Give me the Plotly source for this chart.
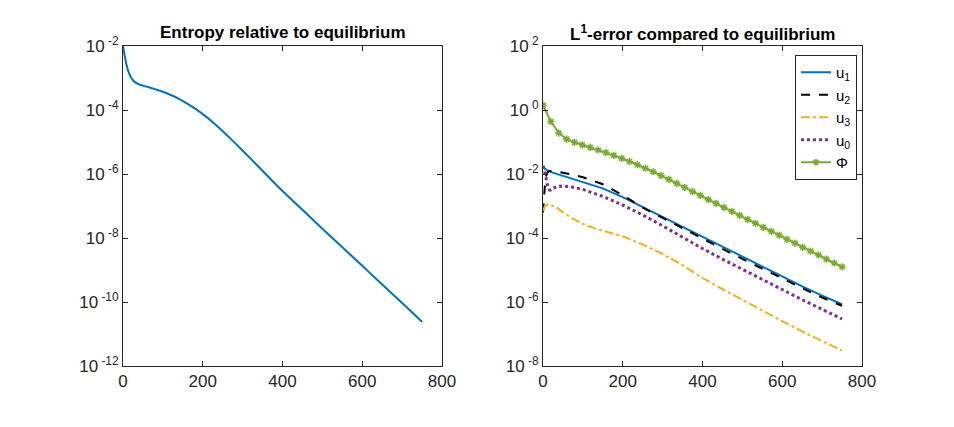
import plotly.graph_objects as go

# ---------------- data ----------------
# Left panel: entropy relative to equilibrium (log10 values)
ent_t = [0, 5, 10, 15, 20, 25, 30, 40, 50, 70, 100, 120, 140, 160, 180, 200,
         220, 240, 260, 280, 320, 360, 400, 450, 500, 550, 600, 650, 700, 750]
ent_log = [-2.0, -2.35, -2.65, -2.85, -2.98, -3.07, -3.13, -3.2, -3.24, -3.31,
           -3.43, -3.53, -3.65, -3.79, -3.95, -4.13, -4.33, -4.55, -4.78, -5.02,
           -5.52, -6.03, -6.53, -7.12, -7.71, -8.29, -8.87, -9.45, -10.03, -10.62]

# Right panel: L1 errors (log10 values)
u1_t = [0, 10, 20, 40, 70, 100, 150, 200, 250, 300, 350, 400, 450, 500, 550,
        600, 650, 700, 750]
u1_log = [-1.79, -1.88, -1.94, -2.02, -2.13, -2.24, -2.45, -2.72, -3.03, -3.34,
          -3.66, -3.97, -4.28, -4.59, -4.9, -5.21, -5.51, -5.8, -6.07]

u2_t = [0, 3, 6, 10, 15, 25, 40, 70, 100, 150, 200, 250, 300, 350, 400, 450,
        500, 550, 600, 650, 700, 750]
u2_log = [-3.2, -2.6, -2.15, -1.97, -1.91, -1.9, -1.93, -2.01, -2.1, -2.32,
          -2.66, -3.05, -3.37, -3.7, -4.02, -4.34, -4.65, -4.96, -5.27, -5.57,
          -5.86, -6.12]

u3_t = [0, 5, 12, 20, 35, 50, 70, 100, 130, 160, 200, 250, 300, 350, 400, 450,
        500, 550, 600, 650, 700, 750]
u3_log = [-3.15, -3.0, -2.95, -2.97, -3.05, -3.2, -3.36, -3.56, -3.7, -3.8,
          -3.95, -4.2, -4.5, -4.85, -5.25, -5.6, -5.94, -6.27, -6.6, -6.92,
          -7.22, -7.52]

u0_t = [0, 4, 8, 12, 16, 20, 25, 35, 50, 70, 100, 150, 200, 250, 300, 350,
        400, 450, 500, 550, 600, 650, 700, 750]
u0_log = [-1.74, -1.9, -2.15, -2.4, -2.5, -2.5, -2.45, -2.39, -2.38, -2.4,
          -2.48, -2.7, -2.97, -3.28, -3.62, -3.98, -4.33, -4.66, -4.98, -5.3,
          -5.62, -5.93, -6.23, -6.53]

phi_t = [0, 19.7, 39.5, 59.2, 78.9, 98.7, 118.4, 138.2, 157.9, 177.6, 197.4,
         217.1, 236.8, 256.6, 276.3, 296.1, 315.8, 335.5, 355.3, 375, 394.7,
         414.5, 434.2, 453.9, 473.7, 493.4, 513.2, 532.9, 552.6, 572.4, 592.1,
         611.8, 631.6, 651.3, 671.1, 690.8, 710.5, 730.3, 750]
phi_log = [0.15, -0.36, -0.72, -0.91, -1.01, -1.09, -1.17, -1.25, -1.33, -1.42,
           -1.51, -1.61, -1.71, -1.82, -1.93, -2.05, -2.17, -2.29, -2.42, -2.55,
           -2.67, -2.8, -2.92, -3.05, -3.17, -3.29, -3.42, -3.54, -3.67, -3.79,
           -3.91, -4.04, -4.16, -4.29, -4.41, -4.53, -4.66, -4.78, -4.9]

x_ticks = [0, 200, 400, 600, 800]
left_exps = [-12, -10, -8, -6, -4, -2]
right_exps = [-8, -6, -4, -2, 0, 2]

# ---------------- figure ----------------
W, H = 954, 427
OFF = 8  # page offset of the plot div (default body margin)


def fx(px):
    return (px - OFF) / W


def fy(py):
    return (H + OFF - py) / H


def pw(logs):
    return [10 ** v for v in logs]


fig = go.Figure()
fig.add_trace(go.Scatter(x=ent_t, y=pw(ent_log), mode="lines",
                         line=dict(color="#0072BD", width=2, shape="spline",
                                   smoothing=0.5),
                         xaxis="x", yaxis="y", showlegend=False))

fig.add_trace(go.Scatter(x=u1_t, y=pw(u1_log), mode="lines", name="u<sub>1</sub>",
                         line=dict(color="#0072BD", width=2),
                         xaxis="x2", yaxis="y2"))
fig.add_trace(go.Scatter(x=u2_t, y=pw(u2_log), mode="lines", name="u<sub>2</sub>",
                         line=dict(color="#000000", width=2, dash="dash"),
                         xaxis="x2", yaxis="y2"))
fig.add_trace(go.Scatter(x=u3_t, y=pw(u3_log), mode="lines", name="u<sub>3</sub>",
                         line=dict(color="#EDB120", width=2, dash="dashdot"),
                         xaxis="x2", yaxis="y2"))
fig.add_trace(go.Scatter(x=u0_t, y=pw(u0_log), mode="lines", name="u<sub>0</sub>",
                         line=dict(color="#7E2F8E", width=3, dash="dot"),
                         xaxis="x2", yaxis="y2"))
fig.add_trace(go.Scatter(x=phi_t, y=pw(phi_log), mode="lines+markers", name="Φ",
                         line=dict(color="#77AC30", width=2),
                         marker=dict(symbol="asterisk-open", size=6,
                                     color="#77AC30",
                                     line=dict(color="#77AC30", width=1.5)),
                         xaxis="x2", yaxis="y2"))

axcol = "#262626"
font = "Liberation Sans, Arial, sans-serif"


def xax(domain, anchor):
    return dict(domain=domain, anchor=anchor, range=[0, 800], tickvals=x_ticks,
                ticktext=[str(v) for v in x_ticks], ticks="inside", ticklen=5,
                tickcolor=axcol, showline=True, linecolor=axcol, linewidth=1,
                mirror="ticks", showgrid=False, zeroline=False, automargin=False,
                tickfont=dict(size=17, color=axcol, family=font))


def yax(domain, anchor, exps):
    return dict(domain=domain, anchor=anchor, type="log",
                range=[exps[0], exps[-1]],
                tickvals=[10 ** e for e in exps],
                ticktext=["10<sup> %d</sup>" % e for e in exps],
                ticks="inside", ticklen=5, tickcolor=axcol, showline=True,
                linecolor=axcol, linewidth=1, mirror="ticks", showgrid=False,
                zeroline=False, automargin=False,
                tickfont=dict(size=17, color=axcol, family=font))


ydom = [fy(366), fy(46)]
fig.update_layout(
    width=W, height=H,
    margin=dict(l=0, r=0, t=0, b=0, pad=0, autoexpand=False),
    paper_bgcolor="white", plot_bgcolor="white",
    font=dict(family=font, color=axcol),
    xaxis=xax([fx(123), fx(442)], "y"),
    yaxis=yax(ydom, "x", left_exps),
    xaxis2=xax([fx(543), fx(862)], "y2"),
    yaxis2=yax(ydom, "x2", right_exps),
    legend=dict(x=fx(857), y=fy(55), xanchor="right", yanchor="top",
                bgcolor="white", bordercolor=axcol, borderwidth=1,
                font=dict(size=15, color="#000000", family=font),
                tracegroupgap=0, itemwidth=30),
    annotations=[
        dict(text="<b>Entropy relative to equilibrium</b>", x=fx((123 + 442) / 2),
             y=fy(33), xref="paper", yref="paper", showarrow=False,
             xanchor="center", yanchor="middle",
             font=dict(size=17, color="#000000", family=font)),
        dict(text="<b>L<sup>1</sup>-error compared to equilibrium</b>",
             x=fx((543 + 862) / 2), y=fy(33), xref="paper",
             yref="paper", showarrow=False, xanchor="center", yanchor="middle",
             font=dict(size=17, color="#000000", family=font)),
    ],
)

fig.write_html("out.html")
